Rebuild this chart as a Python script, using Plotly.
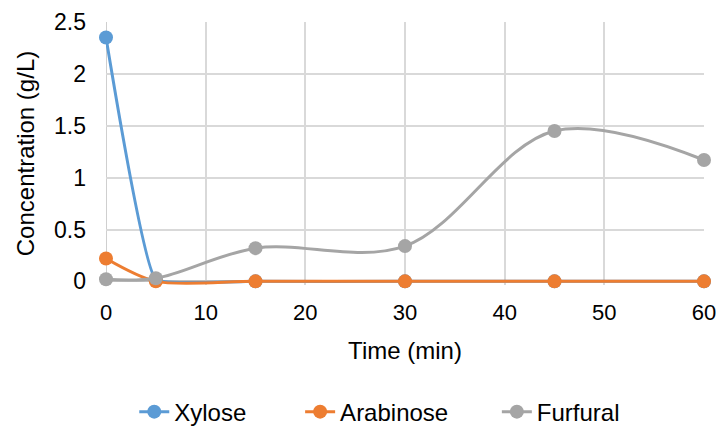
import plotly.graph_objects as go

# Sampling times (min)
time_min = [0, 5, 15, 30, 45, 60]

# Concentrations (g/L)
xylose = [2.35, 0.02, 0, 0, 0, 0]
arabinose = [0.22, 0.0, 0.0, 0.0, 0.0, 0.0]
furfural = [0.02, 0.03, 0.32, 0.34, 1.45, 1.17]

y_ticks = [0, 0.5, 1, 1.5, 2, 2.5]
y_tick_text = ["0", "0.5", "1", "1.5", "2", "2.5"]
x_ticks = [0, 10, 20, 30, 40, 50, 60]

# name, values, colour, spline smoothing, legend id, legend x (container)
series = [
    ("Xylose", xylose, "#5B9BD5", 0.3, "legend", 0.187),
    ("Arabinose", arabinose, "#ED7D31", 0.8, "legend2", 0.418),
    ("Furfural", furfural, "#A5A5A5", 1.0, "legend3", 0.692),
]

font = "Liberation Sans, Arial, sans-serif"

fig = go.Figure()
legends = {}
for name, vals, color, smooth, leg, lx in series:
    fig.add_trace(go.Scatter(
        x=time_min, y=vals, name=name, legend=leg,
        mode="lines+markers",
        line=dict(color=color, width=3, shape="spline", smoothing=smooth),
        marker=dict(color=color, size=14),
        cliponaxis=False,
    ))
    legends[leg] = dict(
        orientation="h", xref="container", x=lx, xanchor="left",
        yref="container", y=0.035, yanchor="middle",
        font=dict(family=font, size=24), bgcolor="rgba(0,0,0,0)",
    )

fig.update_layout(
    width=718, height=427,
    margin=dict(l=106, r=14, t=22, b=142),
    paper_bgcolor="white", plot_bgcolor="white",
    font=dict(family=font, size=22, color="#000000"),
    showlegend=True,
    **legends,
    xaxis=dict(
        range=[0, 60], tickmode="array", tickvals=x_ticks,
        showgrid=True, gridcolor="#D9D9D9", gridwidth=1.5,
        showline=False, zeroline=False, ticks="", tickfont=dict(size=22),
        ticklabelstandoff=12, automargin=False,
        title=dict(text="Time (min)", font=dict(size=24), standoff=18),
    ),
    yaxis=dict(
        range=[-0.035, 2.5], tickmode="array",
        tickvals=y_ticks, ticktext=y_tick_text,
        showgrid=True, gridcolor="#D9D9D9", gridwidth=1.5,
        showline=False,
        zeroline=True, zerolinecolor="#BFBFBF", zerolinewidth=1.5,
        ticks="", tickfont=dict(size=23),
        ticklabelstandoff=19, automargin=False,
        title=dict(text="Concentration (g/L)", font=dict(size=24), standoff=12),
    ),
)

# y-axis line at t = 0
fig.add_vline(x=0, line=dict(color="#BFBFBF", width=1.5), layer="below")

fig.write_html("out.html")
